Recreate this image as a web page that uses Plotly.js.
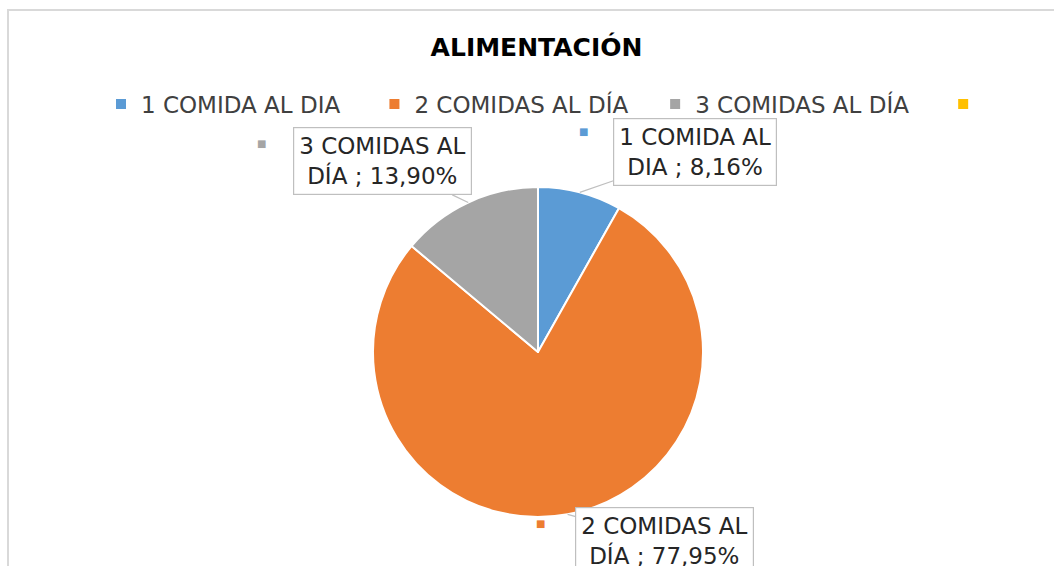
<!DOCTYPE html>
<html>
<head>
<meta charset="utf-8">
<script src="https://cdn.plot.ly/plotly-3.0.1.min.js"></script>
<style>html,body{margin:0;padding:0;background:#fff;}#chart{width:1054px;height:566px;}</style>
</head>
<body>
<div id="chart"></div>
<script>
// ---- data ----
const categories = ["1 COMIDA AL DIA", "2 COMIDAS AL DÍA", "3 COMIDAS AL DÍA", " "];
const percentages = [8.16, 77.95, 13.90, 0];
const sliceColors = ["#5B9BD5", "#ED7D31", "#A5A5A5", "#FFC000"];
const labelTexts = ["1 COMIDA AL<br>DIA ; 8,16%", "2 COMIDAS AL<br>DÍA ; 77,95%", "3 COMIDAS AL<br>DÍA ; 13,90%"];

// ---- layout constants (pixels) ----
const W = 1054, H = 566;
const cx = 538, cy = 352, r = 165;
const FONT = "DejaVu Sans, sans-serif";
// legend spacing: trailing non-breaking spaces per legend entry (styling only)
const legendPad = [4, 3, 4, 0];

// label box offsets from slice anchor (px)
const boxOffsets = [[115, -40], [97, 27], [-86, -41]];
// legend-key square offset from box center (px)
const keyOffsets = [[-111, -28], [-124, -10], [-127, -25]];

const px = x => x / W;
const py = y => 1 - y / H;

const total = percentages.reduce((a, b) => a + b, 0);
let cum = 0;
const annotations = [];
for (let i = 0; i < labelTexts.length; i++) {
  const mid = (cum + percentages[i] / 2) / total * 2 * Math.PI;
  cum += percentages[i];
  const tx = cx + r * Math.sin(mid);
  const ty = cy - r * Math.cos(mid);
  const [ox, oy] = boxOffsets[i];
  annotations.push({
    x: px(tx), y: py(ty), xref: "paper", yref: "paper",
    ax: ox, ay: oy,
    text: labelTexts[i], showarrow: true, arrowhead: 0, arrowwidth: 1.2,
    arrowcolor: "#BFBFBF", bordercolor: "#BFBFBF", borderwidth: 1.2,
    borderpad: 5, bgcolor: "#FFFFFF",
    font: {family: FONT, size: 23, color: "#262626"}, align: "center"
  });
  annotations.push({
    x: px(tx + ox + keyOffsets[i][0]), y: py(ty + oy + keyOffsets[i][1]),
    xref: "paper", yref: "paper", showarrow: false,
    text: "■", font: {family: FONT, size: 10, color: sliceColors[i]}
  });
}

const legendLabels = categories.map((c, i) => c + "\u00a0".repeat(legendPad[i]));

const data = [{
  type: "pie",
  labels: legendLabels,
  values: percentages,
  sort: false,
  direction: "clockwise",
  rotation: 0,
  marker: {colors: sliceColors, line: {color: "#FFFFFF", width: 2}},
  textinfo: "none",
  hoverinfo: "label+percent",
  domain: {x: [px(cx - r), px(cx + r)], y: [py(cy + r), py(cy - r)]}
}];

const layout = {
  width: W, height: H,
  margin: {l: 0, r: 0, t: 0, b: 0},
  paper_bgcolor: "#FFFFFF",
  title: {text: "<b>ALIMENTACIÓN</b>", x: 0.509, xanchor: "center", y: py(47), yanchor: "middle",
          font: {family: FONT, size: 25, color: "#000000"}},
  showlegend: true,
  legend: {orientation: "h", x: px(101), xanchor: "left", y: py(104), yanchor: "middle",
           font: {family: FONT, size: 23, color: "#404040"}, traceorder: "normal",
           bgcolor: "rgba(0,0,0,0)"},
  annotations: annotations,
  shapes: [{type: "rect", xref: "paper", yref: "paper", x0: px(8), x1: px(1070), y0: py(600), y1: py(10),
            line: {color: "#D9D9D9", width: 2}, fillcolor: "rgba(0,0,0,0)"}]
};

Plotly.newPlot("chart", data, layout, {displayModeBar: false, staticPlot: true});
</script>
</body>
</html>
